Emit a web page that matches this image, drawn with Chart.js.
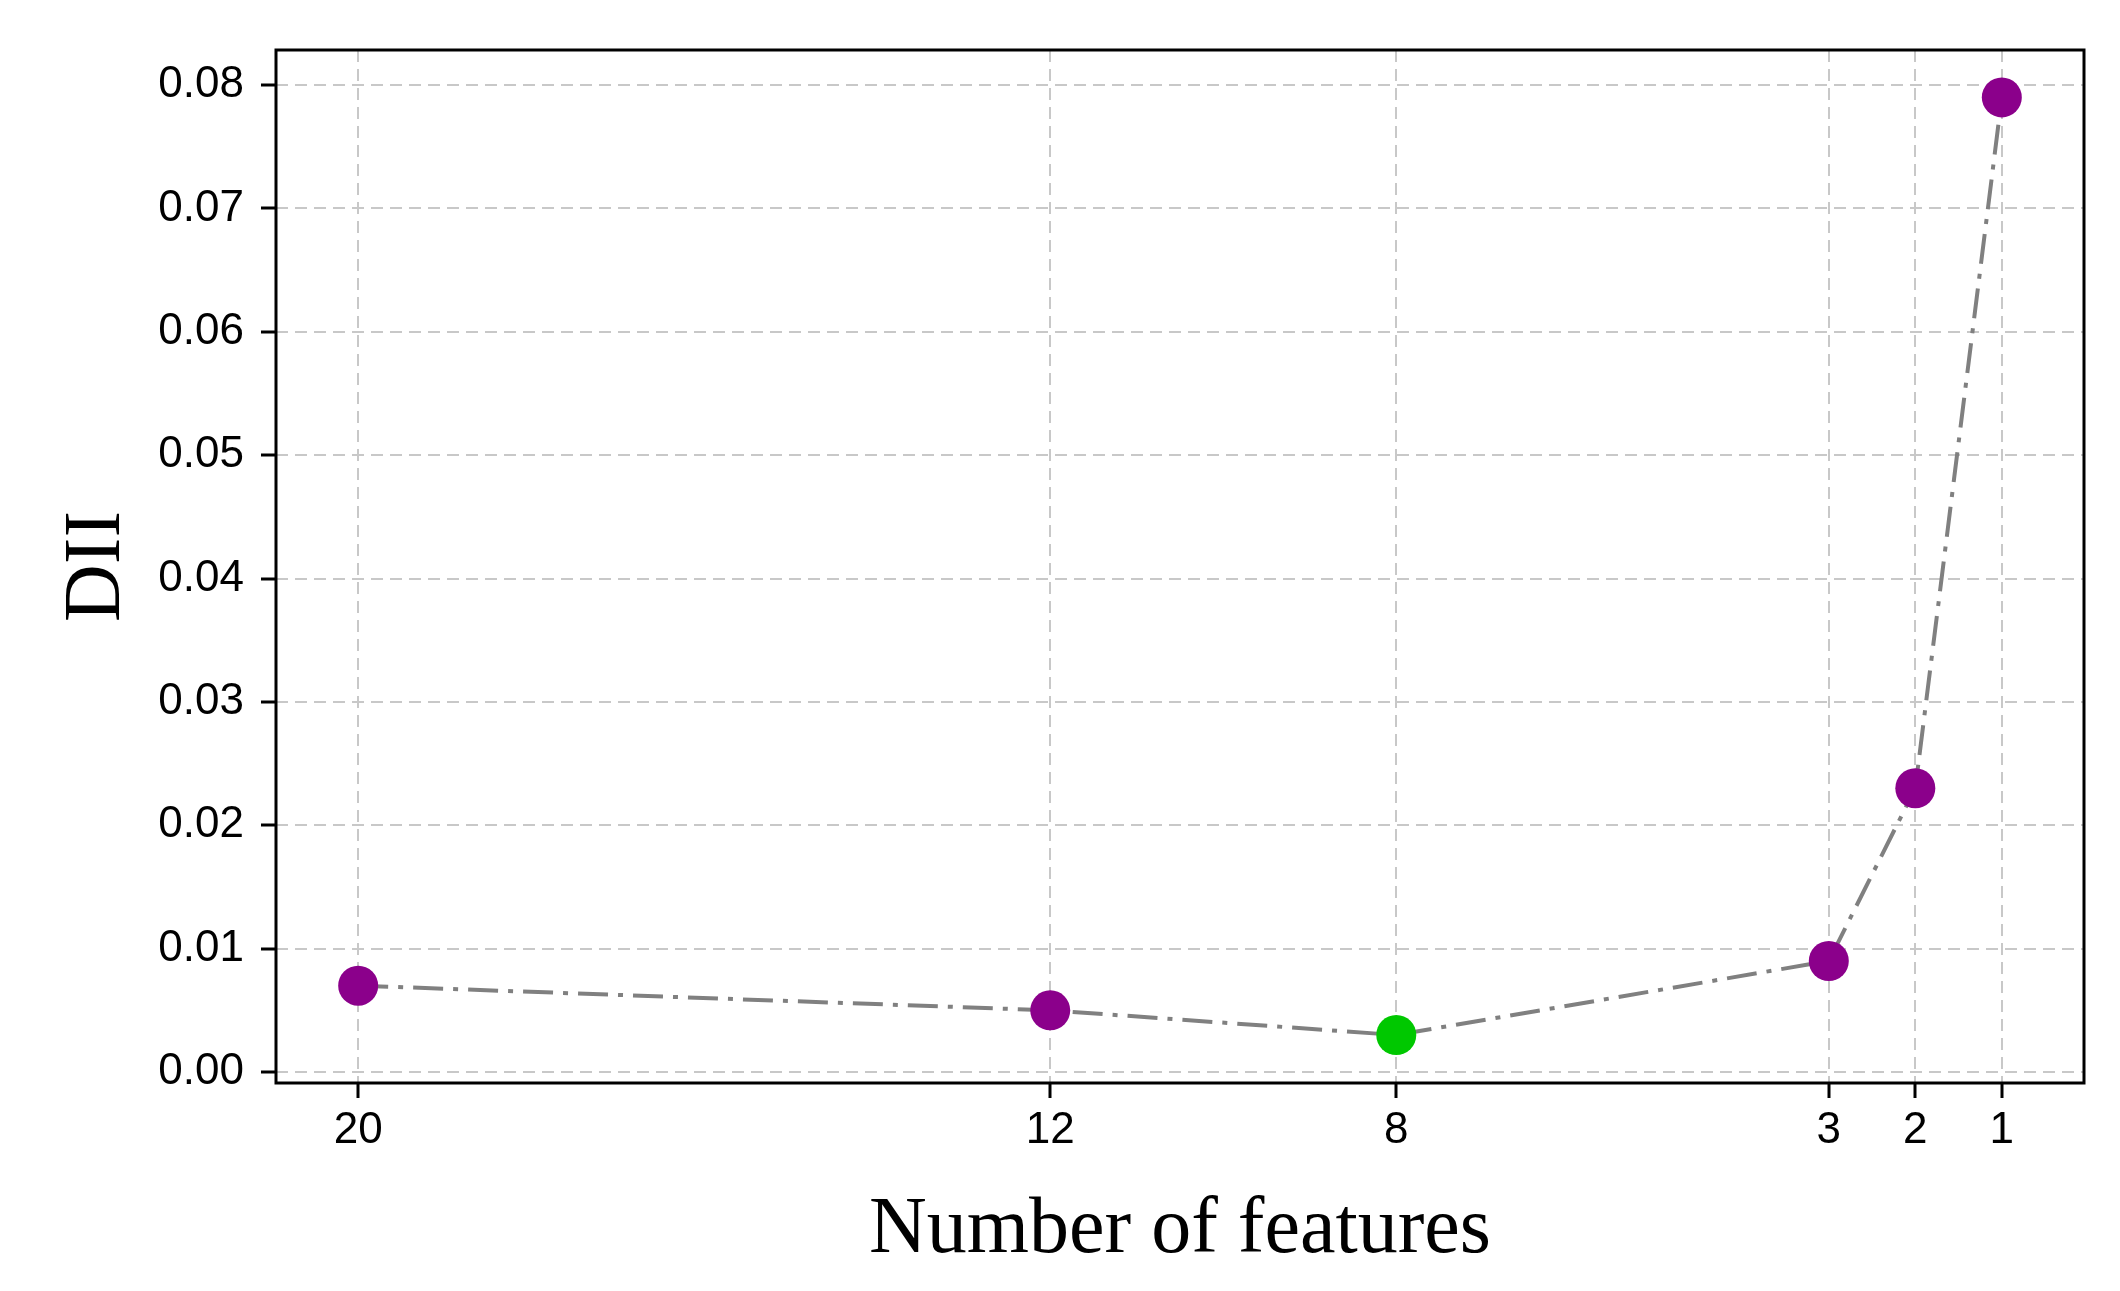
<!DOCTYPE html>
<html><head><meta charset="utf-8">
<script src="https://cdn.jsdelivr.net/npm/chart.js@4.4.1/dist/chart.umd.min.js"></script>
<style>html,body{margin:0;padding:0;background:#fff;} #wrap{width:2120px;height:1291px;}</style>
</head><body><div id="wrap"><canvas id="c" width="2120" height="1291"></canvas></div>
<script>
const featureCounts = [20, 12, 8, 3, 2, 1];
const diiValues = [0.007, 0.005, 0.003, 0.009, 0.023, 0.079];
const xTickValues = [20, 12, 8, 3, 2, 1];
const yTickValues = [0, 0.01, 0.02, 0.03, 0.04, 0.05, 0.06, 0.07, 0.08];
const xLabel = 'Number of features';
const yLabel = 'DII';

const purple = '#8b008b';
const green = '#00c800';
const minDii = Math.min(...diiValues);

const points = featureCounts.map((x, i) => ({x: x, y: diiValues[i]}));

const frame = {
  id: 'frame',
  afterDraw(chart) {
    const {ctx, chartArea: a} = chart;
    ctx.save();
    ctx.strokeStyle = '#000';
    ctx.lineWidth = 3;
    ctx.strokeRect(a.left, a.top, a.right - a.left, a.bottom - a.top);
    ctx.restore();
  }
};

const tickFont = {family: "'Liberation Sans Narrow', 'Liberation Sans', sans-serif", size: 44};
const titleFont = {family: "'Liberation Serif', 'Times New Roman', serif", size: 80};
const gridOpts = {
  color: '#c8c8c8', lineWidth: 2,
  tickColor: '#000', tickWidth: 3, tickLength: 15, tickBorderDash: []
};
const borderOpts = {display: false, dash: [12, 7]};

new Chart(document.getElementById('c'), {
  type: 'line',
  data: {
    datasets: [{
      data: points,
      borderColor: '#808080',
      borderWidth: 4,
      borderDash: [30, 10, 5, 10],
      fill: false,
      tension: 0,
      pointRadius: 20,
      pointHoverRadius: 20,
      pointBorderWidth: 0,
      pointBackgroundColor: c => (c.raw && c.raw.y === minDii) ? green : purple,
      pointBorderColor: c => (c.raw && c.raw.y === minDii) ? green : purple
    }]
  },
  options: {
    responsive: false,
    animation: false,
    devicePixelRatio: 1,
    layout: {padding: {top: 50, right: 36, left: 0, bottom: 0}},
    plugins: {legend: {display: false}, tooltip: {enabled: false}},
    scales: {
      x: {
        type: 'linear', reverse: true, min: 0.05, max: 20.95, z: 1,
        afterBuildTicks: s => { s.ticks = xTickValues.map(v => ({value: v})); },
        afterFit: s => { s.height = 208; },
        ticks: {font: tickFont, color: '#000', padding: 6, maxRotation: 0, autoSkip: false,
                callback: v => String(v)},
        grid: gridOpts,
        border: borderOpts,
        title: {display: true, text: xLabel, font: titleFont, color: '#000', padding: {top: 0, bottom: 12}}
      },
      y: {
        type: 'linear', min: -0.00089, max: 0.08284, z: 1,
        afterBuildTicks: s => { s.ticks = yTickValues.map(v => ({value: v})); },
        afterFit: s => { s.width = 276; },
        ticks: {font: tickFont, color: '#000', padding: 17, callback: v => v.toFixed(2)},
        grid: gridOpts,
        border: borderOpts,
        title: {display: true, text: yLabel, font: titleFont, color: '#000', padding: {top: 50, bottom: 0}}
      }
    }
  },
  plugins: [frame]
});
</script>
</body></html>
